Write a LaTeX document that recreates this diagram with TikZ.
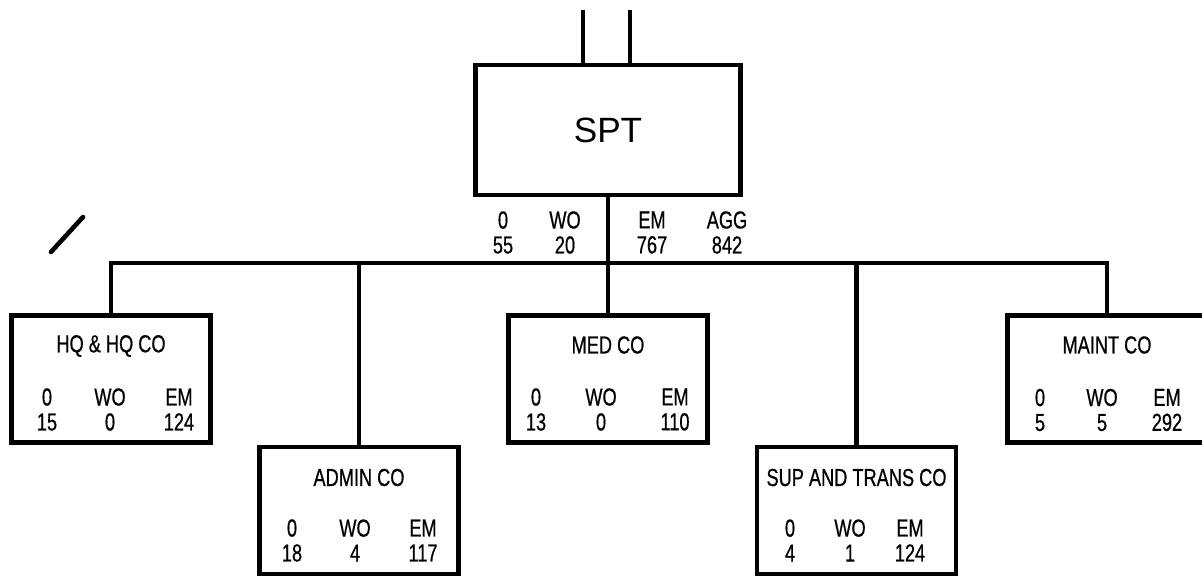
\documentclass[tikz,border=0pt]{standalone}
\usepackage{fontspec}
\setmainfont{Liberation Sans}
\newfontfamily\condfont[FakeStretch=0.74,FakeBold=0.6]{Liberation Sans}
\usetikzlibrary{calc,positioning}

\begin{document}
\begin{tikzpicture}[
  x=0.02cm, y=-0.02cm,
  spt box/.style={rectangle, draw, line width=2.4pt, minimum width=5.3cm, minimum height=2.61cm, font=\fontsize{20}{24}\selectfont},
  company/.style={rectangle, draw, line width=2.4pt, minimum width=3.98cm, minimum height=2.54cm},
  txt/.style={font=\condfont\fontsize{14}{14.2}\selectfont, inner sep=0pt, align=center},
  wire/.style={line width=2.4pt}
]
  \useasboundingbox (0,0) rectangle (1202,575);
  \clip (0,0) rectangle (1202,575);

  % battalion
  \node[spt box] (spt) at (608,130) {SPT};
  \node[txt] (sptO) at (503,232.5) {0\\55};
  \node[txt] (sptW) at (565,232.5) {WO\\20};
  \node[txt] (sptE) at (652,232.5) {EM\\767};
  \node[txt] (sptA) at (727,232.5) {AGG\\842};

  % companies
  \node[company] (hq)    at (111,379)   {};
  \node[company] (admin) at (359,510.5) {};
  \node[company] (med)   at (608,379)   {};
  \node[company] (sup)   at (856.5,510.5) {};
  \node[company] (maint) at (1107,379)  {};

  \node[txt] (hqT) at ($(hq)+(0,-33)$)    {HQ \& HQ CO};
  \node[txt] (hqO) at ($(hq)+(-64,30.5)$) {0\\15};
  \node[txt] (hqW) at ($(hq)+(-1,30.5)$)  {WO\\0};
  \node[txt] (hqE) at ($(hq)+(68,30.5)$)  {EM\\124};

  \node[txt] (adminT) at ($(admin)+(0,-33)$)    {ADMIN CO};
  \node[txt] (adminO) at ($(admin)+(-67,30)$)   {0\\18};
  \node[txt] (adminW) at ($(admin)+(-4,30)$)    {WO\\4};
  \node[txt] (adminE) at ($(admin)+(64,30)$)    {EM\\117};

  \node[txt] (medT) at ($(med)+(0,-34)$)    {MED CO};
  \node[txt] (medO) at ($(med)+(-72,30.5)$) {0\\13};
  \node[txt] (medW) at ($(med)+(-7,30.5)$)  {WO\\0};
  \node[txt] (medE) at ($(med)+(67,30.5)$)  {EM\\110};

  \node[txt] (supT) at ($(sup)+(0,-33)$)      {SUP AND TRANS CO};
  \node[txt] (supO) at ($(sup)+(-66.5,30)$)   {0\\4};
  \node[txt] (supW) at ($(sup)+(-6.5,30)$)    {WO\\1};
  \node[txt] (supE) at ($(sup)+(53.5,30)$)    {EM\\124};

  \node[txt] (maintT) at ($(maint)+(0,-34)$)    {MAINT CO};
  \node[txt] (maintO) at ($(maint)+(-67,31)$)   {0\\5};
  \node[txt] (maintW) at ($(maint)+(-5,31)$)    {WO\\5};
  \node[txt] (maintE) at ($(maint)+(60,31)$)    {EM\\292};

  % lines
  \coordinate (inA) at (583,10);
  \coordinate (inB) at (630,10);
  \coordinate (busR) at (1107,263);
  \draw[wire] (inA) -- (inA |- spt.north);
  \draw[wire] (inB) -- (inB |- spt.north);
  \draw[wire] (spt.south) -- (med.north);
  \draw[wire] (hq.north) |- (busR) -- (maint.north);
  \draw[wire] (admin.north) -- (admin.north |- busR);
  \draw[wire] (sup.north) -- (sup.north |- busR);

  % pen mark
  \draw[line width=2.6pt, line cap=round] (51,252) -- (83,217);
\end{tikzpicture}
\end{document}
